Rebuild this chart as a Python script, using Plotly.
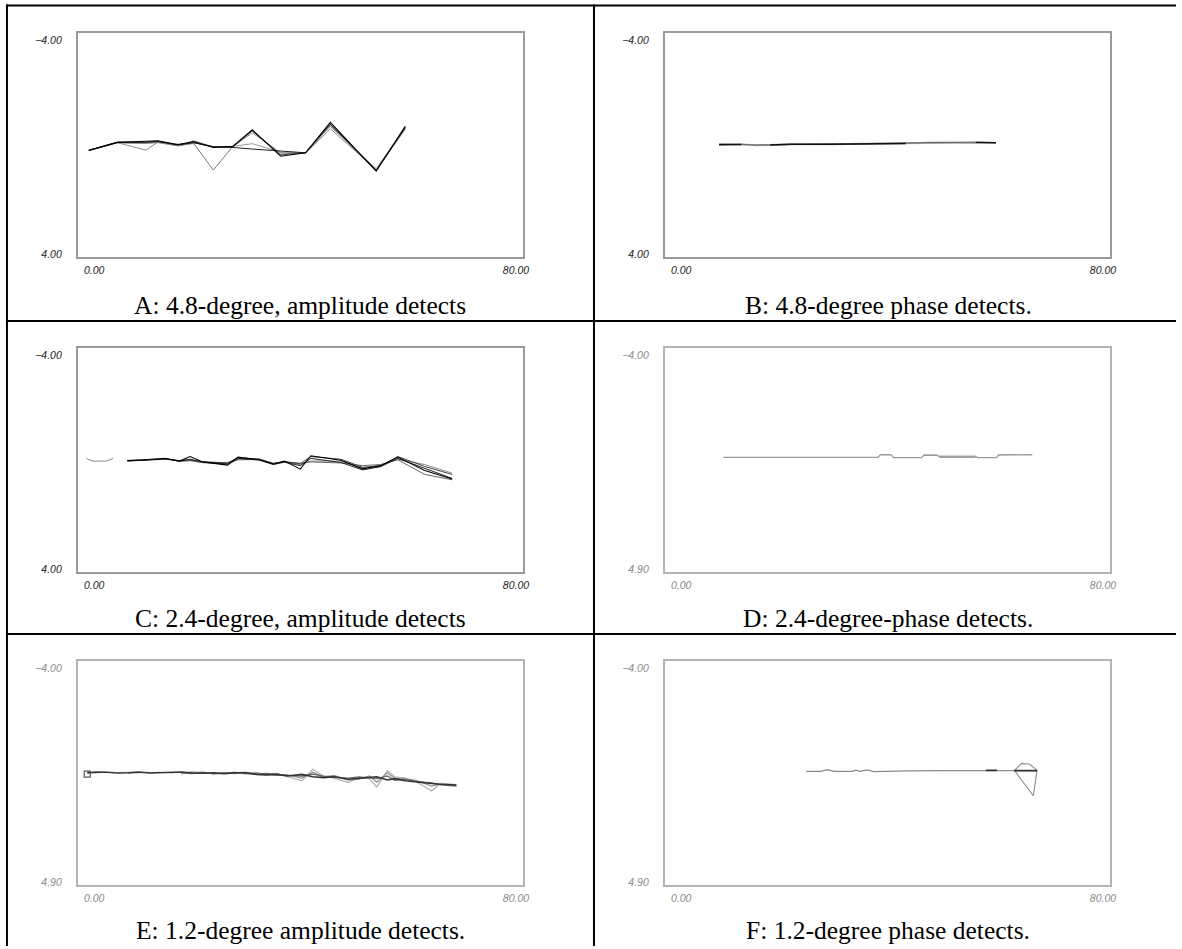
import plotly.graph_objects as go

# ---------------- data ----------------
X_TICKS = [0, 80]
X_TICK_TEXT = ["0.00", "80.00"]
Y_TICKS = [-4, 4]
Y_TICK_TEXT = ["\u22124.00", "4.00"]
Y_TICK_TEXT_BLUR = ["\u22124.00", "4.90"]

CAPTIONS = [
    "A: 4.8-degree, amplitude detects",
    "B: 4.8-degree phase detects.",
    "C: 2.4-degree, amplitude detects",
    "D: 2.4-degree-phase detects.",
    "E: 1.2-degree amplitude detects.",
    "F: 1.2-degree phase detects.",
]

# Panel A
X_A = [-1.0, 4.4, 9.8, 12.1, 15.9, 18.9, 22.6, 26.3, 30.0, 35.4, 40.1, 44.8, 53.5, 59.0]
A1 = [0.11, -0.19, -0.23, -0.25, -0.10, -0.22, 0.00, -0.04, -0.66, 0.33, 0.20, -0.94, 0.89, -0.79]
A2 = [0.11, -0.20, -0.18, -0.22, -0.12, -0.18, -0.02, -0.03, -0.62, 0.28, 0.19, -0.85, 0.86, -0.72]
A3 = [0.11, -0.18, 0.10, -0.20, -0.08, -0.25, -0.02, -0.02, -0.55, 0.20, 0.22, -0.70, 0.84, -0.68]
A4 = [0.11, -0.17, -0.15, -0.18, -0.06, -0.15, 0.85, -0.04, -0.62, 0.25, 0.20, -0.80, 0.80, -0.75]
A5 = [0.11, -0.19, -0.20, -0.22, -0.09, -0.18, -0.03, 0.00, 0.06, 0.14, 0.20, -0.88, 0.88, -0.77]
A6 = [0.11, -0.18, -0.17, -0.20, -0.07, -0.17, -0.02, -0.04, -0.14, 0.18, 0.20, -0.80, 0.85, -0.70]

# Panel B
X_B = [7.2, 11.4, 14.3, 16.9, 20.8, 28.4, 37.5, 42.6, 47.3, 55.9, 59.7]
B1 = [-0.11, -0.11, -0.08, -0.10, -0.12, -0.12, -0.15, -0.15, -0.18, -0.19, -0.17]
B2 = [-0.10, -0.12, -0.09, -0.09, -0.11, -0.13, -0.14, -0.16, -0.19, -0.18, -0.17]
B3 = [-0.11, -0.11, None, -0.09, -0.12, -0.12, -0.15, -0.15, None, -0.19, -0.18]

# Panel C
X_C0 = [-1.5, -0.3, 2.3, 3.6]
C0 = [-0.15, -0.05, -0.05, -0.15]
X_C = [6.3, 9.1, 13.5, 16.2, 18.2, 20.6, 25.3, 27.3, 31.3, 34.0, 36.1, 39.1, 41.1, 46.8, 50.9, 54.3, 57.6, 62.7, 67.9]
C1 = [-0.07, -0.08, -0.15, -0.05, -0.22, -0.02, 0.10, -0.20, -0.10, 0.06, -0.05, 0.25, -0.25, -0.08, 0.24, 0.12, -0.20, 0.30, 0.62]
C2 = [-0.06, -0.09, -0.13, -0.07, -0.10, -0.03, 0.02, -0.18, -0.12, 0.03, -0.02, 0.05, -0.22, -0.12, 0.18, 0.15, -0.22, 0.15, 0.45]
C3 = [-0.08, -0.10, -0.16, -0.03, -0.06, 0.00, 0.00, -0.12, -0.14, 0.04, -0.04, 0.08, -0.05, -0.05, 0.20, 0.10, -0.12, 0.08, 0.40]
C4 = [-0.05, -0.07, -0.12, -0.06, -0.08, 0.01, 0.05, -0.10, -0.11, 0.05, -0.03, 0.03, -0.02, 0.02, 0.12, 0.08, -0.10, 0.45, 0.65]
C5 = [-0.07, -0.09, -0.14, -0.05, -0.12, -0.01, 0.06, -0.15, -0.09, 0.08, -0.01, 0.12, -0.15, 0.00, 0.28, 0.16, -0.15, 0.22, 0.60]

# Panel D
X_D = [8.0, 37.3, 37.8, 39.8, 40.3, 45.6, 46.1, 48.5, 49.0, 55.8, 56.3, 59.8, 60.2, 66.6]
D1 = [-0.19, -0.19, -0.29, -0.29, -0.18, -0.18, -0.28, -0.27, -0.22, -0.22, -0.18, -0.18, -0.28, -0.29]
D2 = [None, None, None, None, None, None, None, None, -0.21, -0.21, None, None, None, None]

# Panel E
X_E = [-1.3, 0.4, 2.4, 4.4, 6.4, 8.4, 10.5, 12.5, 14.5, 16.5, 18.5, 20.6, 22.6, 24.6, 26.6, 28.7, 30.7,
       32.7, 34.7, 36.7, 39.4, 41.5, 43.5, 45.5, 48.2, 50.2, 52.2, 53.6, 55.6, 57.0, 59.0, 61.0, 64.0, 65.7, 68.7]
E1 = [-0.10, -0.13, -0.12, -0.09, -0.10, -0.13, -0.09, -0.11, -0.13, -0.13, -0.09, -0.08, -0.10, -0.07,
      -0.09, -0.11, -0.04, -0.02, -0.04, 0.02, -0.04, 0.05, 0.08, 0.05, 0.14, 0.11, 0.08, 0.05, 0.17, 0.12,
      0.20, 0.25, 0.30, 0.33, 0.36]
E2 = [-0.12, -0.10, None, -0.11, -0.12, None, -0.10, -0.12, None, -0.06, -0.14, -0.10, -0.08, -0.12,
      -0.07, -0.10, -0.12, -0.02, -0.08, 0.05, 0.20, -0.23, 0.02, 0.10, 0.27, 0.08, 0.12, 0.43, -0.18, 0.05,
      0.10, 0.22, 0.58, 0.30, 0.34]
E3 = [-0.09, -0.11, -0.12, None, -0.09, -0.11, -0.12, None, -0.10, -0.12, -0.07, -0.11, -0.06, -0.10,
      -0.12, -0.06, -0.08, -0.06, 0.00, -0.02, 0.10, -0.12, 0.06, 0.00, 0.18, 0.14, 0.02, 0.25, -0.10, 0.10,
      0.15, 0.18, 0.40, 0.32, 0.38]
E4 = [None, None, None, None, None, None, None, None, None, -0.10, -0.09, -0.12, -0.07, -0.08, -0.11,
      -0.08, -0.05, -0.08, -0.03, 0.00, 0.02, -0.05, 0.03, 0.06, 0.10, 0.05, 0.10, 0.12, 0.02, 0.18,
      0.14, 0.22, 0.28, 0.35, 0.40]
E_BOX_X = [-1.3]
E_BOX_Y = [-0.05]

# Panel F
X_F = [23.7, 26.5, 27.7, 29.0, 32.5, 33.1, 34.0, 35.3, 36.5, 39.0, 40.0, 43.2, 50.0, 57.8, 59.9, 63.2, 67.5]
F1 = [-0.15, -0.15, -0.22, -0.15, -0.15, -0.20, -0.15, -0.21, -0.14, -0.15, -0.18, -0.17, -0.18, -0.19,
      -0.19, -0.18, -0.18]
X_F_LOOP = [63.2, 64.6, 66.1, 67.5, 66.8, 63.2]
F_LOOP = [-0.19, -0.45, -0.42, -0.20, 0.76, -0.19]
X_F_DARK = [57.8, 59.9, None, 63.2, 67.5]
F_DARK = [-0.19, -0.19, None, -0.18, -0.18]

# ---------------- layout helpers ----------------
W, H = 1182, 949
X_RANGE = [-3.13, 81.4]
Y_RANGE = [4.11, -4.29]

COL_X = [(78, 526), (668, 1116)]
ROW_Y = [(33, 258), (349, 574), (663, 888)]

fig = go.Figure()

panel_style = [
    # (tick color, box color)
    ("#222222", "#9a9a9a"),
    ("#222222", "#9a9a9a"),
    ("#222222", "#9a9a9a"),
    ("#8a8a8a", "#b4b4b4"),
    ("#8a8a8a", "#b4b4b4"),
    ("#8a8a8a", "#b4b4b4"),
]

layout_axes = {}
for i in range(6):
    r, c = divmod(i, 2)
    x0, x1 = COL_X[c]
    y0, y1 = ROW_Y[r]
    tick_col, box_col = panel_style[i]
    sfx = "" if i == 0 else str(i + 1)
    tickfont = dict(family="Liberation Sans, Arial", size=10.5, color=tick_col, style="italic")
    layout_axes["xaxis" + sfx] = dict(
        domain=[x0 / W, x1 / W], range=X_RANGE, anchor="y" + sfx,
        tickvals=X_TICKS, ticktext=X_TICK_TEXT, tickfont=tickfont,
        ticks="outside", ticklen=2, tickcolor="rgba(0,0,0,0)",
        showgrid=False, zeroline=False, showline=True, mirror=True,
        linecolor=box_col, linewidth=1.5, fixedrange=True,
    )
    layout_axes["yaxis" + sfx] = dict(
        domain=[1 - y1 / H, 1 - y0 / H], range=Y_RANGE, anchor="x" + sfx,
        tickvals=Y_TICKS, ticktext=(Y_TICK_TEXT if i < 3 else Y_TICK_TEXT_BLUR), tickfont=tickfont,
        ticks="outside", ticklen=12, tickcolor="rgba(0,0,0,0)",
        showgrid=False, zeroline=False, showline=True, mirror=True,
        linecolor=box_col, linewidth=1.5, fixedrange=True,
    )


def add(x, y, panel, color, width=1.0, mode="lines", marker=None):
    sfx = "" if panel == 0 else str(panel + 1)
    kw = dict(x=x, y=y, mode=mode, xaxis="x" + sfx, yaxis="y" + sfx,
              showlegend=False, hoverinfo="skip", connectgaps=False)
    if mode == "lines":
        kw["line"] = dict(color=color, width=width)
    else:
        kw["marker"] = marker
    fig.add_trace(go.Scatter(**kw))


# A
add(X_A, A3, 0, "#8c8c8c", 1.0)
add(X_A, A4, 0, "#7a7a7a", 1.0)
add(X_A, A6, 0, "#9a9a9a", 1.0)
add(X_A, A2, 0, "#555555", 1.0)
add(X_A, A5, 0, "#222222", 1.0)
add(X_A, A1, 0, "#000000", 1.1)
# B
add(X_B, B1, 1, "#a8a8a8", 2.0)
add(X_B, B2, 1, "#707070", 1.2)
add(X_B, B3, 1, "#111111", 1.4)
# C
add(X_C0, C0, 2, "#8a8a8a", 1.0)
add(X_C, C3, 2, "#8c8c8c", 1.0)
add(X_C, C4, 2, "#666666", 1.0)
add(X_C, C2, 2, "#444444", 1.0)
add(X_C, C5, 2, "#222222", 1.0)
add(X_C, C1, 2, "#000000", 1.1)
# D
add(X_D, D1, 3, "#9a9a9a", 1.4)
add(X_D, D2, 3, "#a0a0a0", 2.2)
# E
add(X_E, E2, 4, "#b0b0b0", 1.2)
add(X_E, E3, 4, "#909090", 1.2)
add(X_E, E4, 4, "#6a6a6a", 1.3)
add(X_E, E1, 4, "#333333", 1.6)
add(E_BOX_X, E_BOX_Y, 4, None, mode="markers",
    marker=dict(symbol="square-open", size=6, color="#555555", line=dict(width=1.2)))
# F
add(X_F, F1, 5, "#8a8a8a", 1.3)
add(X_F_LOOP, F_LOOP, 5, "#8a8a8a", 1.1)
add(X_F_DARK, F_DARK, 5, "#333333", 1.8)

# ---------------- table frame ----------------
LINE = dict(color="#000000", width=2)
shapes = []


def hline(py, px0, px1):
    shapes.append(dict(type="line", xref="paper", yref="paper", x0=px0 / W, x1=px1 / W,
                       y0=1 - py / H, y1=1 - py / H, line=LINE, layer="above"))


def vline(px, py0, py1):
    shapes.append(dict(type="line", xref="paper", yref="paper", x0=px / W, x1=px / W,
                       y0=1 - py0 / H, y1=1 - py1 / H, line=LINE, layer="above"))


hline(5.5, 6, W)
hline(322, 6, W)
hline(636, 6, W)
vline(7, 4.5, H)
vline(597, 4.5, H)

annotations = []
CAP_CX = [302, 893]
CAP_CY = [306.5, 620.5, 933.5]
for i, t in enumerate(CAPTIONS):
    r, c = divmod(i, 2)
    annotations.append(dict(
        text=t, xref="paper", yref="paper", x=CAP_CX[c] / W, y=1 - CAP_CY[r] / H,
        xanchor="center", yanchor="middle", showarrow=False,
        font=dict(family="Liberation Serif, Times New Roman, serif", size=25.5, color="#000000"),
    ))

fig.update_layout(
    width=W, height=H, margin=dict(l=0, r=0, t=0, b=0),
    paper_bgcolor="white", plot_bgcolor="white",
    shapes=shapes, annotations=annotations, **layout_axes,
)

fig.write_html(
    "out.html",
    config={"displayModeBar": False},
    post_script="document.body.style.margin='0';document.body.style.padding='0';"
                "document.body.style.overflow='hidden';",
)
